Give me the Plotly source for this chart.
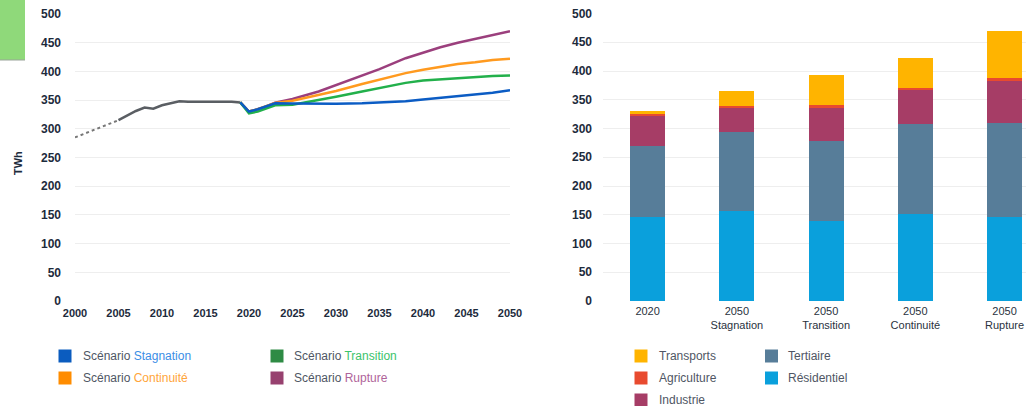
import plotly.graph_objects as go

W, H = 1026, 406

# ---------------- data: left line chart ----------------
est_years = [2000, 2005]
est_values = [285, 315]

hist_years = list(range(2005, 2020))
hist_values = [315, 323, 331, 337, 335, 341, 344, 348, 347, 347, 348, 347.5, 347, 347, 346]

scen_years = [2019, 2020, 2021, 2022, 2023, 2025, 2028, 2030, 2033, 2035, 2038, 2040, 2042, 2044, 2046, 2048, 2050]
stagnation = [346, 330, 334, 339, 344.5, 344, 343, 343.5, 344.5, 345.5, 348, 351, 354, 356, 359, 363, 367]
transition = [346, 327, 330, 335, 341, 342, 350, 356, 365, 371, 380, 384, 386, 389, 390, 392, 393]
continuite = [346, 330, 334, 339, 345, 349, 359, 366, 378, 386, 397, 403, 408, 413, 416, 420, 422]
rupture = [346, 330, 334, 339, 345.5, 352, 365, 376, 392, 404, 423, 433, 442, 450, 457, 464, 470]

x_ticks = list(range(2000, 2051, 5))

# ---------------- data: right stacked bars ----------------
bar_categories = ["2020", "2050<br>Stagnation", "2050<br>Transition", "2050<br>Continuité", "2050<br>Rupture"]
residentiel = [146, 156, 139, 151, 146]
tertiaire = [124, 138, 140, 157, 164]
industrie = [51, 43, 59, 60, 72]
agriculture = [5, 3, 3, 3, 5]
transports = [4, 26, 52, 51, 82]

# ---------------- styling ----------------
C_GRAY = "#5a5e63"
C_BLUE = "#0b5cc4"
C_GREEN = "#22b04b"
C_ORANGE = "#ff9a1f"
C_PURPLE = "#9b3f7d"

C_TRANSP = "#ffb400"
C_AGRI = "#e84a2f"
C_INDUS = "#a63d66"
C_TERT = "#577d99"
C_RES = "#0aa0dc"

TICK_COLOR = "#1d2b3c"
TEXT_COLOR = "#4f5664"
GRID = "#eeeeee"

def px_x(p):
    return p / W

def px_y(p):
    return 1 - p / H

fig = go.Figure()

# left chart lines
fig.add_trace(go.Scatter(x=est_years, y=est_values, mode="lines",
                         line=dict(color="#777777", width=2, dash="dot"),
                         xaxis="x", yaxis="y", showlegend=False, hoverinfo="skip"))
fig.add_trace(go.Scatter(x=hist_years, y=hist_values, mode="lines",
                         line=dict(color=C_GRAY, width=2.5),
                         xaxis="x", yaxis="y", showlegend=False))
for name, vals, col in [("Rupture", rupture, C_PURPLE),
                        ("Continuité", continuite, C_ORANGE),
                        ("Transition", transition, C_GREEN),
                        ("Stagnation", stagnation, C_BLUE)]:
    fig.add_trace(go.Scatter(x=scen_years, y=vals, mode="lines", name="Scénario " + name,
                             line=dict(color=col, width=2.5),
                             xaxis="x", yaxis="y", showlegend=False))

# right chart bars
for name, vals, col in [("Résidentiel", residentiel, C_RES),
                        ("Tertiaire", tertiaire, C_TERT),
                        ("Industrie", industrie, C_INDUS),
                        ("Agriculture", agriculture, C_AGRI),
                        ("Transports", transports, C_TRANSP)]:
    fig.add_trace(go.Bar(x=bar_categories, y=vals, name=name, marker=dict(color=col, line=dict(width=0)),
                         width=0.39, xaxis="x2", yaxis="y2", showlegend=False))

FAM = "Liberation Sans, Arial, sans-serif"
xtickfont_bold = dict(family=FAM, size=11, color=TICK_COLOR, weight="bold")
ytickfont_bold = dict(family=FAM, size=12, color=TICK_COLOR, weight="bold")
tickfont_reg = dict(family=FAM, size=11, color="#2a3240")

fig.update_layout(
    width=W, height=H,
    margin=dict(l=0, r=0, t=0, b=0),
    paper_bgcolor="white", plot_bgcolor="white",
    barmode="stack",
    font=dict(family=FAM),
    xaxis=dict(domain=[px_x(75), px_x(510)], range=[2000, 2050], tickvals=x_ticks,
               showgrid=False, zeroline=False, showline=False, ticks="",
               tickfont=xtickfont_bold, anchor="y", automargin=False, ticklabelstandoff=4),
    yaxis=dict(domain=[px_y(301), px_y(14)], range=[0, 500], dtick=50,
               showgrid=True, gridcolor=GRID, gridwidth=1, zeroline=False, showline=False, ticks="",
               tickfont=ytickfont_bold, anchor="x", automargin=False, ticklabelstandoff=13),
    xaxis2=dict(domain=[px_x(603), 1], type="category", range=[-0.5, 4.24],
                showgrid=False, zeroline=False, showline=False, ticks="",
                tickfont=tickfont_reg, anchor="y2", automargin=False, ticklabelstandoff=2),
    yaxis2=dict(domain=[px_y(301), px_y(13.5)], range=[0, 500], dtick=50,
                showgrid=True, gridcolor=GRID, gridwidth=1, zeroline=False, showline=False, ticks="",
                tickfont=ytickfont_bold, anchor="x2", automargin=False, ticklabelstandoff=10),
)

shapes = []
annotations = []

# green block top-left
shapes.append(dict(type="rect", xref="paper", yref="paper",
                   x0=0, x1=px_x(25), y0=px_y(60), y1=1,
                   fillcolor="#8fd97a", line=dict(width=0), layer="above"))
shapes.append(dict(type="line", xref="paper", yref="paper",
                   x0=0, x1=px_x(25), y0=px_y(60), y1=px_y(60),
                   line=dict(color="#9aa39a", width=1)))

# y-axis title
annotations.append(dict(text="<b>TWh</b>", xref="paper", yref="paper",
                        x=px_x(18), y=px_y(163), showarrow=False, textangle=-90,
                        font=dict(size=11, color=TICK_COLOR), xanchor="center", yanchor="middle"))

def legend_item(cx, cy, color, text_x, text):
    s = 13
    shapes.append(dict(type="rect", xref="paper", yref="paper",
                       x0=px_x(cx - s / 2), x1=px_x(cx + s / 2),
                       y0=px_y(cy + s / 2), y1=px_y(cy - s / 2),
                       fillcolor=color, line=dict(width=0)))
    annotations.append(dict(text=text, xref="paper", yref="paper",
                            x=px_x(text_x), y=px_y(cy), showarrow=False,
                            xanchor="left", yanchor="middle",
                            font=dict(size=12, color=TEXT_COLOR)))

# left legend
legend_item(65, 356, "#0b5cbf", 81, "Scénario <span style='color:#3a8ee6'>Stagnation</span>")
legend_item(65, 378, "#ff8c00", 81, "Scénario <span style='color:#ffa53a'>Continuité</span>")
legend_item(277, 356, "#2e8b44", 292, "Scénario <span style='color:#3cc36b'>Transition</span>")
legend_item(277, 378, "#97416f", 292, "Scénario <span style='color:#b0649a'>Rupture</span>")

# right legend
legend_item(641, 356, C_TRANSP, 657, "Transports")
legend_item(641, 378, C_AGRI, 657, "Agriculture")
legend_item(641, 400, C_INDUS, 657, "Industrie")
legend_item(771.5, 356, C_TERT, 786, "Tertiaire")
legend_item(771.5, 378, C_RES, 786, "Résidentiel")

fig.update_layout(shapes=shapes, annotations=annotations)

fig.write_html("out.html")
